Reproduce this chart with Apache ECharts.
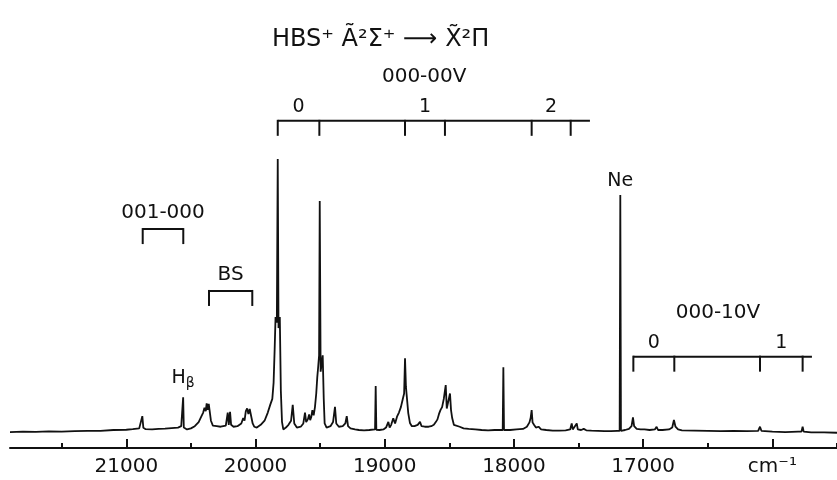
<!DOCTYPE html>
<html>
<head>
<meta charset="utf-8">
<script src="https://cdn.jsdelivr.net/npm/echarts@6/dist/echarts.min.js"></script>
<style>
html, body { margin: 0; padding: 0; background: #fff; }
#spectrum { width: 837px; height: 480px; }
</style>
</head>
<body>
<div id="spectrum"></div>
<script>
// emission trace: wavenumber (cm-1) and relative intensity
var waveNum = [
    21900, 21800, 21700, 21600, 21500, 21400, 21300, 21200, 21100, 21000,
    20950, 20900, 20885, 20876, 20868, 20850, 20800, 20750, 20700, 20650,
    20600, 20575, 20565, 20560, 20555, 20530, 20500, 20470, 20440, 20420,
    20405, 20395, 20385, 20378, 20370, 20362, 20352, 20345, 20330, 20300,
    20270, 20230, 20215, 20207, 20197, 20189, 20170, 20140, 20110, 20095,
    20085, 20075, 20065, 20055, 20045, 20035, 20022, 20010, 19990, 19960,
    19930, 19905, 19885, 19870, 19860, 19852, 19845, 19835, 19828, 19822,
    19812, 19804, 19795, 19785, 19765, 19745, 19725, 19712, 19700, 19680,
    19650, 19630, 19617, 19608, 19595, 19585, 19577, 19568, 19560, 19550,
    19540, 19530, 19522, 19515, 19508, 19503, 19496, 19488, 19480, 19472,
    19465, 19450, 19420, 19400, 19385, 19375, 19355, 19325, 19305, 19294,
    19284, 19265, 19230, 19200, 19160, 19120, 19075, 19070, 19065, 19040,
    19010, 18990, 18972, 18962, 18950, 18934, 18920, 18905, 18890, 18875,
    18862, 18850, 18843, 18836, 18828, 18818, 18805, 18790, 18770, 18745,
    18727, 18715, 18690, 18660, 18640, 18620, 18605, 18592, 18580, 18568,
    18556, 18543, 18528, 18520, 18510, 18495, 18487, 18478, 18465, 18450,
    18420, 18390, 18350, 18300, 18250, 18200, 18150, 18087, 18082, 18077,
    18030, 17980, 17930, 17900, 17880, 17871, 17863, 17856, 17845, 17830,
    17810, 17790, 17750, 17700, 17650, 17600, 17565, 17553, 17545, 17530,
    17514, 17506, 17480, 17460, 17440, 17400, 17350, 17300, 17250, 17200,
    17182, 17177, 17172, 17140, 17110, 17090, 17079, 17070, 17050, 17020,
    16990, 16950, 16910, 16896, 16885, 16850, 16800, 16775, 16762, 16750,
    16730, 16700, 16600, 16500, 16400, 16300, 16200, 16110, 16096, 16085,
    16000, 15900, 15800, 15775, 15766, 15758, 15700, 15600, 15500
];
var relInt = [
    -0.2, 0, -0.1, 0.1, 0, 0.2, 0.3, 0.3, 0.6, 0.7,
    0.9, 1.2, 1.5, 5.7, 1.4, 0.9, 0.8, 1.0, 1.1, 1.3,
    1.5, 2.0, 2.0, 12.6, 1.5, 0.8, 1.2, 2.0, 3.5, 5.5,
    7.0, 8.8, 7.5, 10.4, 8.0, 10.2, 9.5, 4.0, 2.2, 2.0,
    1.8, 2.2, 7.0, 2.5, 7.3, 2.5, 1.8, 2.0, 3.0, 5.0,
    4.0, 7.5, 8.5, 6.5, 8.3, 7.8, 3.0, 1.8, 1.5, 2.5,
    4.0, 7.0, 10.0, 12.0, 18.0, 30.0, 42.0, 40.0, 100, 38.0,
    42.0, 15.0, 3.6, 0.8, 1.5, 2.5, 4.0, 9.8, 3.0, 1.5,
    1.8, 3.0, 7.0, 3.5, 4.5, 6.3, 4.2, 5.5, 7.9, 6.0,
    9.0, 14.0, 20.0, 23.8, 28.0, 84.6, 22.0, 21.5, 28.0, 12.0,
    3.0, 1.5, 2.0, 3.5, 9.1, 3.0, 1.8, 2.0, 3.0, 5.7,
    2.0, 1.2, 0.8, 0.6, 0.5, 0.6, 0.8, 16.7, 0.7, 0.6,
    0.8, 1.5, 3.6, 1.5, 2.5, 4.9, 3.0, 5.5, 7.0, 9.0,
    11.6, 14.0, 26.9, 16.5, 16.0, 6.8, 3.2, 2.0, 2.0, 2.5,
    3.6, 2.0, 1.8, 1.8, 2.0, 2.5, 3.5, 4.5, 6.5, 8.0,
    9.0, 12.0, 17.1, 8.5, 9.0, 14.0, 7.9, 5.0, 2.5, 1.8,
    1.8, 1.2, 1.0, 0.8, 0.6, 0.5, 0.6, 0.6, 23.6, 0.6,
    0.6, 0.8, 1.0, 1.8, 3.4, 5.0, 7.9, 3.4, 2.5, 1.5,
    1.8, 0.8, 0.6, 0.4, 0.4, 0.5, 0.8, 3.0, 0.8, 0.9,
    3.0, 0.8, 0.6, 1.0, 0.5, 0.4, 0.3, 0.2, 0.2, 0.3,
    0.3, 86.8, 0.3, 0.6, 1.0, 2.0, 5.2, 2.0, 1.0, 0.8,
    0.8, 0.6, 0.8, 1.8, 0.6, 0.6, 0.8, 1.5, 4.3, 1.8,
    0.8, 0.5, 0.4, 0.3, 0.2, 0.3, 0.2, 0.3, 1.8, 0.3,
    0.0, -0.2, 0.0, 0.0, 1.8, 0.0, -0.3, -0.3, -0.4
];

// axis ticks
var majorTicks = [16000, 17000, 18000, 19000, 20000, 21000];
var minorTicks = [15500, 16500, 17500, 18500, 19500, 20500, 21500];
var unitLabel = 'cm⁻¹';

// progression brackets
var progNames = ['001-000', 'BS', '000-00V', '000-10V'];
var progHeight = [74.3, 51.6, 114, 27.5];
var progTicks = [
    [20873, 20559],
    [20360, 20025],
    [19828, 19506, 18843, 18534, 17863, 17561],
    [17076, 16759, 16096, 15766]
];
var progLineEnd = [20559, 20025, 17412, 15694];
var progNums = [[], [], ['0', '1', '2'], ['0', '1']];

// labelled lines
var lineNames = ['Hβ', 'Ne'];
var linePos = [20560, 17177];
var lineTop = [12.6, 86.8];

var FONT = '"DejaVu Sans", sans-serif';
var INK = '#111';

var trace = [];
for (var i = 0; i < waveNum.length; i++) {
    trace.push([waveNum[i], relInt[i]]);
}

function renderBracket(params, api) {
    var i = params.dataIndex;
    var ticks = progTicks[i];
    var h = progHeight[i];
    var p0 = api.coord([ticks[0], h]);
    var pEnd = api.coord([progLineEnd[i], h]);
    var kids = [{
        type: 'line',
        shape: {x1: p0[0], y1: p0[1], x2: pEnd[0], y2: pEnd[1]},
        style: {stroke: INK, lineWidth: 2}
    }];
    for (var k = 0; k < ticks.length; k++) {
        var p = api.coord([ticks[k], h]);
        kids.push({
            type: 'line',
            shape: {x1: p[0], y1: p[1] - 1, x2: p[0], y2: p[1] + 15},
            style: {stroke: INK, lineWidth: 2}
        });
    }
    var nums = progNums[i];
    for (var n = 0; n < nums.length; n++) {
        var a = api.coord([ticks[2 * n], h]);
        var b = api.coord([ticks[2 * n + 1], h]);
        kids.push({
            type: 'text',
            style: {
                text: nums[n], x: (a[0] + b[0]) / 2, y: a[1] - 14,
                align: 'center', verticalAlign: 'middle',
                fontSize: 19, fontFamily: FONT, fill: INK
            }
        });
    }
    var pLast = api.coord([ticks[ticks.length - 1], h]);
    kids.push({
        type: 'text',
        style: {
            text: progNames[i], x: (p0[0] + pLast[0]) / 2,
            y: p0[1] - (nums.length ? 44 : 16),
            align: 'center', verticalAlign: 'middle',
            fontSize: 20, fontFamily: FONT, fill: INK
        }
    });
    return {type: 'group', children: kids};
}

function renderLineLabel(params, api) {
    var i = params.dataIndex;
    var p = api.coord([linePos[i], lineTop[i]]);
    var txt = lineNames[i];
    var style = {
        text: txt, x: p[0], y: p[1] - 14,
        align: 'center', verticalAlign: 'middle',
        fontSize: 19, fontFamily: FONT, fill: INK
    };
    if (txt.length === 2 && txt.charAt(1) === 'β') {
        style.text = '{h|H}{s|β}';
        style.rich = {
            h: {fontSize: 19, fontFamily: FONT, fill: INK, lineHeight: 18, verticalAlign: 'top'},
            s: {fontSize: 14, fontFamily: FONT, fill: INK, lineHeight: 30}
        };
    }
    return {type: 'text', style: style};
}

var chart = echarts.init(document.getElementById('spectrum'));
var option = {
    backgroundColor: '#fff',
    animation: false,
    title: {
        text: 'HBS⁺ Ã²Σ⁺ ⟶ X̃²Π',
        left: 272,
        top: 28,
        padding: 0,
        textStyle: {fontSize: 24, fontWeight: 'normal', fontFamily: FONT, color: INK}
    },
    grid: {left: 10, right: 0, top: 159, bottom: 32},
    xAxis: [
        {
            type: 'value',
            position: 'bottom',
            inverse: true,
            min: 15500,
            max: 21900,
            splitLine: {show: false},
            axisLine: {onZero: false, lineStyle: {color: INK, width: 2}},
            axisTick: {
                customValues: majorTicks,
                inside: true,
                length: 9,
                lineStyle: {color: INK, width: 2}
            },
            axisLabel: {
                customValues: majorTicks,
                margin: 9,
                fontSize: 20,
                fontFamily: FONT,
                color: INK,
                formatter: function (v) {
                    return v === 16000 ? unitLabel : String(v);
                }
            }
        },
        {
            type: 'value',
            position: 'bottom',
            inverse: true,
            min: 15500,
            max: 21900,
            splitLine: {show: false},
            axisLine: {show: false, onZero: false},
            axisTick: {
                customValues: minorTicks,
                inside: true,
                length: 5,
                lineStyle: {color: INK, width: 2}
            },
            axisLabel: {show: false}
        }
    ],
    yAxis: {
        type: 'value',
        min: -6,
        max: 100,
        show: false
    },
    series: [
        {
            name: 'HBS+',
            type: 'line',
            data: trace,
            xAxisIndex: 0,
            showSymbol: false,
            symbol: 'none',
            lineStyle: {color: INK, width: 1.8},
            z: 3
        },
        {
            name: 'progressions',
            type: 'custom',
            xAxisIndex: 0,
            renderItem: renderBracket,
            data: progNames.map(function (n, i) { return [progTicks[i][0], progHeight[i]]; }),
            z: 4
        },
        {
            name: 'lines',
            type: 'custom',
            xAxisIndex: 0,
            renderItem: renderLineLabel,
            data: lineNames.map(function (n, i) { return [linePos[i], lineTop[i]]; }),
            z: 4
        }
    ]
};
chart.setOption(option);
</script>
</body>
</html>
